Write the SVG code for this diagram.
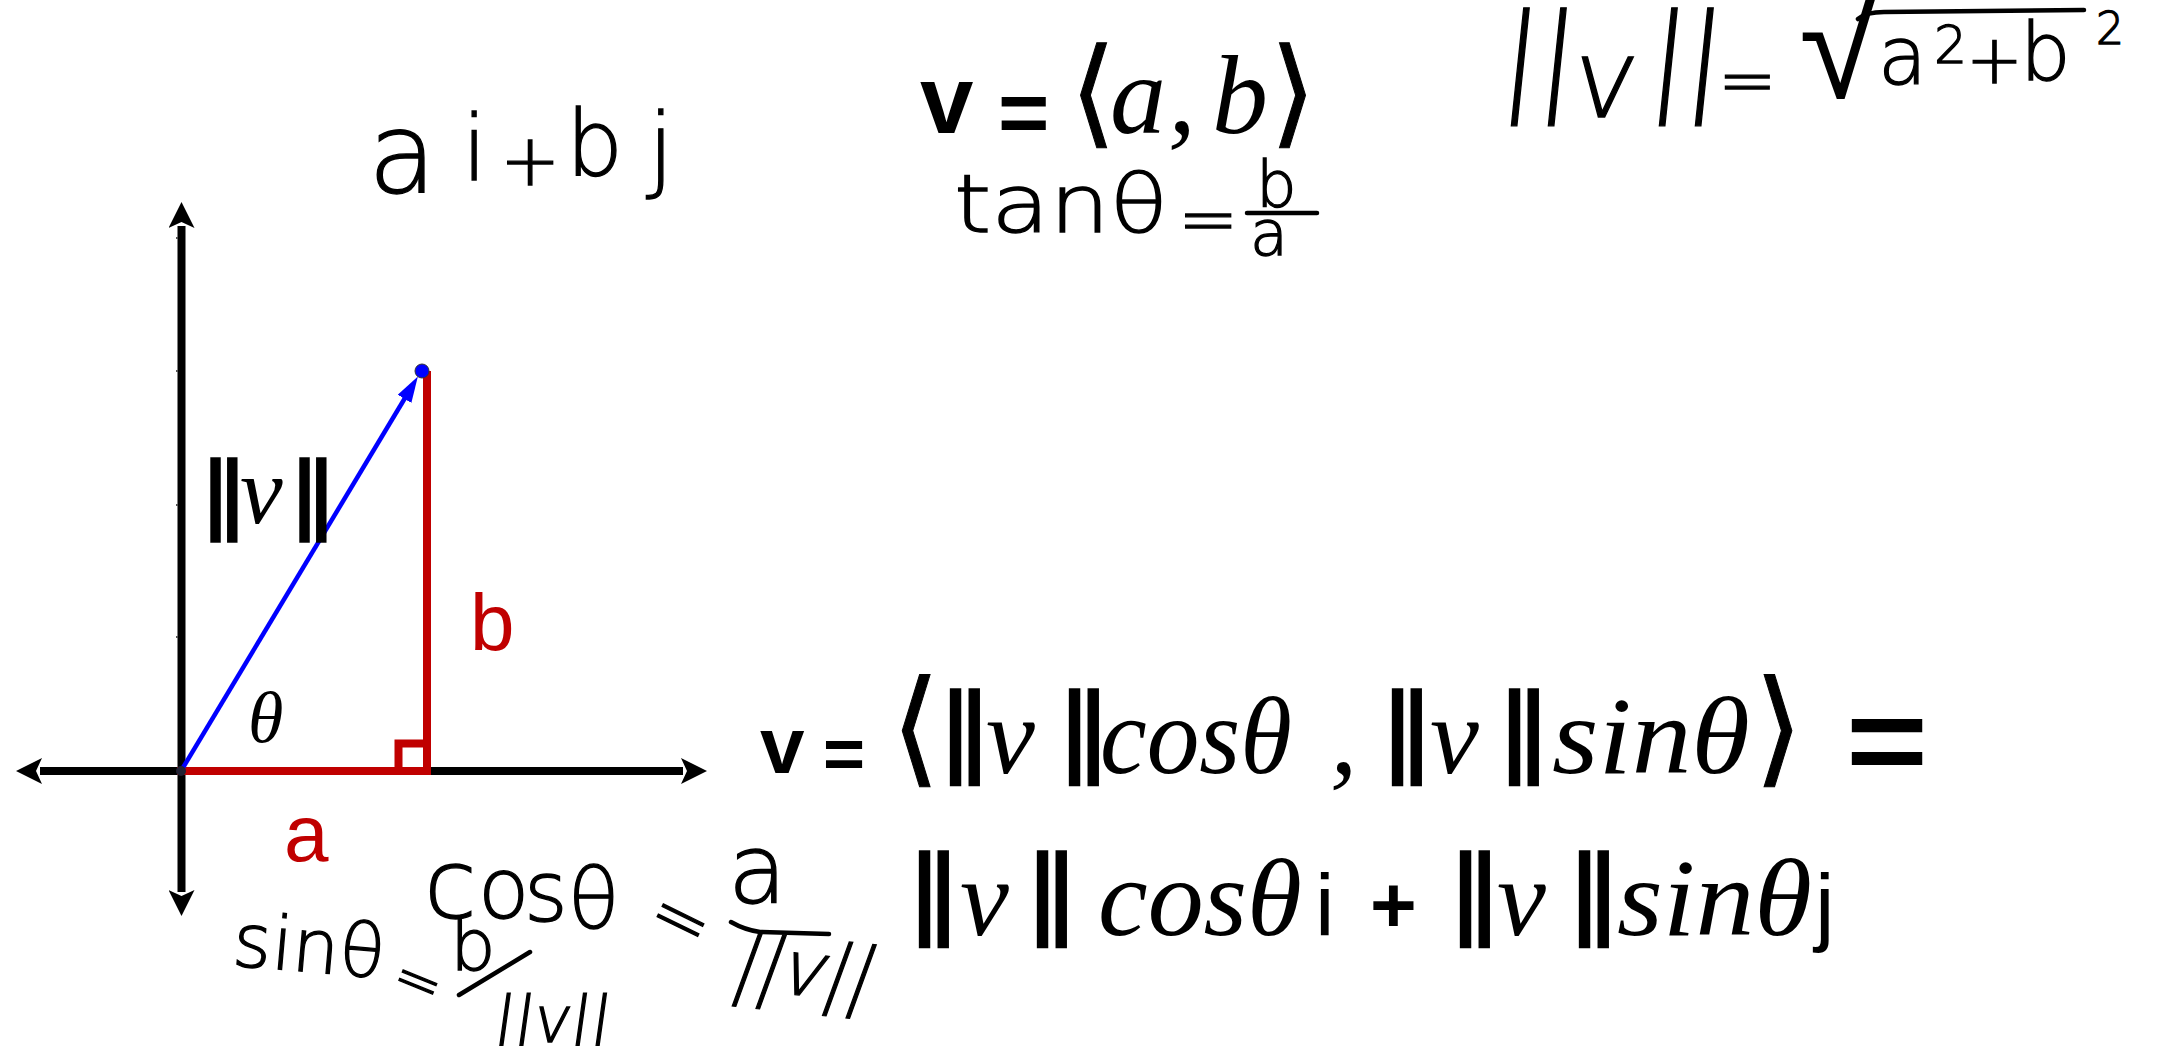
<svg xmlns="http://www.w3.org/2000/svg" width="2161" height="1046" viewBox="0 0 2161 1046">
<style>
.ax{stroke:#000;stroke-width:8;fill:none}
.red{stroke:#c00000;stroke-width:8;fill:none}
.hw{font-family:"DejaVu Sans","Liberation Sans",sans-serif;font-weight:200;fill:#000;stroke:#000;stroke-width:1.3}
.hl{stroke:#000;stroke-width:4.5;fill:none;stroke-linecap:round}
.mi{font-family:"Liberation Serif","DejaVu Serif",serif;font-style:italic;fill:#000}
.bar{font-family:"DejaVu Sans","Liberation Sans",sans-serif;fill:#000;stroke:#000;stroke-width:1.5}
.br{font-family:"DejaVu Sans","Liberation Sans",sans-serif;fill:#000;stroke:#000;stroke-width:1}
.sb{font-family:"Liberation Sans",Arial,sans-serif;font-weight:bold;fill:#000}
.sr{font-family:"Liberation Sans",Arial,sans-serif;fill:#000}
.lbl{font-family:"Liberation Sans",Arial,sans-serif;fill:#c00000}
</style>
<defs>
<marker id="axh" markerUnits="userSpaceOnUse" markerWidth="26" markerHeight="26" viewBox="0 0 26 26" refX="2" refY="13" orient="auto-start-reverse">
<path d="M0,0 L26,13 L0,26 L6,13 z" fill="#000"/>
</marker>
<marker id="bh" markerUnits="userSpaceOnUse" markerWidth="26" markerHeight="16" viewBox="0 0 26 16" refX="1" refY="8" orient="auto">
<path d="M0,0 L26,8 L0,16 z" fill="#0000ff"/>
</marker>
</defs>
<rect width="2161" height="1046" fill="#fff"/>

<g id="axes">
<line class="ax" x1="181.5" y1="226" x2="181.5" y2="892" marker-start="url(#axh)" marker-end="url(#axh)"/>
<line class="ax" x1="40" y1="771" x2="683" y2="771" marker-start="url(#axh)" marker-end="url(#axh)"/>
<g stroke="#555" stroke-width="2">
<line x1="176" y1="238" x2="178" y2="238"/>
<line x1="176" y1="371" x2="178" y2="371"/>
<line x1="176" y1="505" x2="178" y2="505"/>
<line x1="176" y1="637" x2="178" y2="637"/>
</g>
</g>

<g id="triangle">
<line class="red" x1="177" y1="771" x2="431" y2="771"/>
<line class="red" x1="427" y1="371" x2="427" y2="775"/>
<rect class="red" x="398.5" y="743.5" width="28.5" height="27.5" stroke-width="7"/>
</g>

<g id="vector">
<line x1="181" y1="771" x2="405" y2="398" stroke="#0000ff" stroke-width="4.5" marker-end="url(#bh)"/>
<circle cx="422" cy="371" r="7" fill="#0000ff" stroke="#333" stroke-width="1"/>
<circle cx="181" cy="771" r="5" fill="#223"/>
</g>

<g id="graph-labels">
<text class="bar" x="198" y="522" font-size="84" textLength="52" lengthAdjust="spacingAndGlyphs">‖</text>
<text class="mi" x="240" y="523" font-size="96">v</text>
<text class="bar" x="287" y="522" font-size="84" textLength="52" lengthAdjust="spacingAndGlyphs">‖</text>
<text class="mi" x="248" y="742" font-size="72">θ</text>
<text class="lbl" x="470" y="650" font-size="80">b</text>
<text class="lbl" x="284" y="861" font-size="80">a</text>
</g>

<g id="hw-aibj">
<text class="hw" x="368" y="192" font-size="112">a</text>
<text class="hw" x="462" y="180" font-size="90">i</text>
<text class="hw" x="500" y="185" font-size="72">+</text>
<text class="hw" x="566" y="175" font-size="90">b</text>
<text class="hw" x="648" y="180" font-size="92">j</text>
</g>

<g id="eq-vab">
<text class="sb" x="920" y="133" font-size="96">v</text>
<text class="sb" x="998" y="142" font-size="88">=</text>
<text class="br" x="1070" y="132" font-size="118">⟨</text>
<text class="mi" x="1110" y="133" font-size="112">a</text>
<text class="mi" x="1168" y="133" font-size="112">,</text>
<text class="mi" x="1212" y="133" font-size="112">b</text>
<text class="br" x="1270" y="132" font-size="118">⟩</text>
</g>

<g id="hw-tan">
<text class="hw" font-size="80" x="954" y="232" textLength="214" lengthAdjust="spacingAndGlyphs">tanθ</text>
<text class="hw" font-size="72" x="1178" y="243">=</text>
<text class="hw" font-size="64" x="1256" y="207">b</text>
<path class="hl" d="M1247,213 L1317,213"/>
<text class="hw" font-size="62" x="1250" y="255">a</text>
</g>

<g id="hw-norm">
<g transform="translate(1600 70) skewX(-6) translate(-1600 -70)">
<text class="hw" font-size="118" x="1500 1537" y="98">||</text>
<text class="hw" font-size="110" x="1574" y="117">v</text>
<text class="hw" font-size="118" x="1648 1684" y="98">||</text>
</g>
<text class="hw" font-size="70" x="1718" y="104">=</text>
<text font-family="Liberation Sans, Arial, sans-serif" font-size="150" x="1799" y="98" fill="#000">√</text>
<path class="hl" d="M1858,19 Q1866,12 1884,12 L2084,10"/>
<text class="hw" font-size="80" x="1878" y="84">a</text>
<text class="hw" font-size="52" x="1934" y="63">2</text>
<text class="hw" font-size="68" x="1966" y="83">+</text>
<text class="hw" font-size="80" x="2020" y="80">b</text>
<text class="hw" font-size="44" x="2096" y="44">2</text>
</g>

<g id="main-eq">
<text class="sb" x="760" y="773" font-size="80">v</text>
<text class="sb" x="823" y="778" font-size="72">=</text>
<text class="br" x="891" y="770" font-size="126">⟨</text>
<text class="bar" x="936" y="762" font-size="97" textLength="58" lengthAdjust="spacingAndGlyphs">‖</text>
<text class="mi" x="986" y="773" font-size="110">v</text>
<text class="bar" x="1055" y="762" font-size="97" textLength="58" lengthAdjust="spacingAndGlyphs">‖</text>
<text class="mi" x="1100" y="773" font-size="110" textLength="192" lengthAdjust="spacingAndGlyphs">cosθ</text>
<text class="mi" x="1330" y="773" font-size="110">,</text>
<text class="bar" x="1378" y="762" font-size="97" textLength="58" lengthAdjust="spacingAndGlyphs">‖</text>
<text class="mi" x="1430" y="773" font-size="110">v</text>
<text class="bar" x="1495" y="762" font-size="97" textLength="58" lengthAdjust="spacingAndGlyphs">‖</text>
<text class="mi" x="1552" y="773" font-size="110" textLength="198" lengthAdjust="spacingAndGlyphs">sinθ</text>
<text class="br" x="1754" y="770" font-size="126">⟩</text>
<text class="sb" x="1846" y="782" font-size="120" textLength="82" lengthAdjust="spacingAndGlyphs">=</text>

<text class="bar" x="905" y="924" font-size="97" textLength="58" lengthAdjust="spacingAndGlyphs">‖</text>
<text class="mi" x="960" y="935" font-size="110">v</text>
<text class="bar" x="1023" y="924" font-size="97" textLength="58" lengthAdjust="spacingAndGlyphs">‖</text>
<text class="mi" x="1098" y="935" font-size="110" textLength="204" lengthAdjust="spacingAndGlyphs">cosθ</text>
<text class="sr" x="1315" y="935" font-size="88">i</text>
<text class="sb" x="1370" y="932" font-size="80">+</text>
<text class="bar" x="1446" y="924" font-size="97" textLength="58" lengthAdjust="spacingAndGlyphs">‖</text>
<text class="mi" x="1497" y="935" font-size="110">v</text>
<text class="bar" x="1565" y="924" font-size="97" textLength="58" lengthAdjust="spacingAndGlyphs">‖</text>
<text class="mi" x="1617" y="935" font-size="110" textLength="195" lengthAdjust="spacingAndGlyphs">sinθ</text>
<text class="sr" x="1815" y="935" font-size="88">j</text>
</g>

<g id="hw-cos">
<text class="hw" font-size="96" x="424" y="918">c</text>
<text class="hw" font-size="84" x="478 524 568" y="918 921 928">osθ</text>
<text class="hw" font-size="72" transform="rotate(26 673 915)" x="652" y="939">=</text>
<text class="hw" font-size="96" x="728" y="903">a</text>
<path class="hl" d="M731,922 Q745,930 760,932 L829,934"/>
<g transform="rotate(6 800 970) translate(800 970) skewX(-14) translate(-800 -970)">
<text class="hw" font-size="76" x="736" y="995" textLength="140" lengthAdjust="spacing">||v||</text>
</g>
</g>

<g id="hw-sin">
<text class="hw" font-size="74" x="232" y="972" textLength="152" lengthAdjust="spacing" transform="rotate(5 310 960)">sinθ</text>
<text class="hw" font-size="58" transform="rotate(22 413 977)" x="395" y="998">=</text>
<text class="hw" font-size="72" x="450" y="970">b</text>
<path class="hl" d="M459,995 L530,952"/>
<g transform="translate(550 1020) skewX(-8) translate(-550 -1020)">
<text class="hw" font-size="64" x="494" y="1042" textLength="118" lengthAdjust="spacing">||v||</text>
</g>
</g>
</svg>
